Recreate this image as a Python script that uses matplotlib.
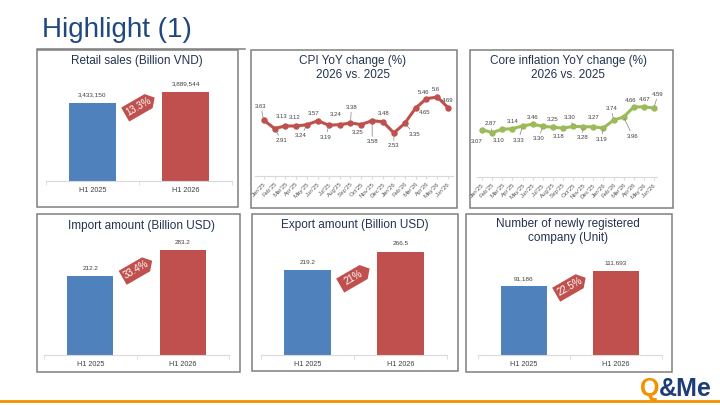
import matplotlib.pyplot as plt
import matplotlib.transforms as mtransforms
from matplotlib.patches import Rectangle, Polygon
from matplotlib.lines import Line2D

plt.rcParams['font.family'] = ['Liberation Sans', 'DejaVu Sans']

# ---- data ----
periods = ["H1 2025", "H1 2026"]
retail_sales = [3433150, 3889544]
import_amount = [212.2, 283.2]
export_amount = [219.2, 266.5]
new_companies = [91186, 111693]
growth_tags = ["13.3%", "33.4%", "21%", "22.5%"]

months = ["Jan'25", "Feb'25", "Mar'25", "Apr'25", "May'25", "Jun'25",
          "Jul'25", "Aug'25", "Sep'25", "Oct'25", "Nov'25", "Dec'25",
          "Jan'26", "Feb'26", "Mar'26", "Apr'26", "May'26", "Jun'26"]
cpi_yoy = [3.63, 2.91, 3.13, 3.12, 3.24, 3.57, 3.19, 3.24, 3.38,
           3.25, 3.58, 3.48, 2.53, 3.35, 4.65, 5.46, 5.6, 4.69]
core_yoy = [3.07, 2.87, 3.10, 3.14, 3.33, 3.46, 3.30, 3.25, 3.18,
            3.30, 3.28, 3.27, 3.19, 3.74, 3.96, 4.66, 4.67, 4.59]

# label placement (pixels, +up) and whether a leader line is drawn
cpi_lbl_pos = [(-3, 14, 1), (7, -12, 1), (-4, 9, 0), (-2, 9, 0), (-6, -11, 1), (-4, 7, 0),
               (-3, -12, 1), (-4, 10, 0), (1, 16, 1), (-4, -8, 0), (0, -21, 1), (1, 8, 0),
               (0, -13, 1), (10, -11, 1), (9, -4, 0), (-3, 6, 0), (-1, 8, 0), (0, 7, 0)]
core_lbl_pos = [(-5, -12, 0), (-2, 9, 1), (-4, -11, 0), (0, 7, 0), (-4, -14, 1), (0, 7, 0),
                (-4, -12, 1), (0, 8, 0), (-4, -8, 0), (-3, 9, 1), (-1, -11, 1), (0, 9, 0),
                (-2, -11, 1), (-2, 12, 1), (9, -19, 1), (-3, 7, 0), (1, 7, 0), (4, 14, 1)]

BLUE = '#4F81BD'
RED = '#C0504D'
GREEN = '#9BBB59'
NAVY = '#1F497D'
TITLE_C = '#243350'
TXT = '#404040'
GRID = '#D9D9D9'

W, H = 720, 405
fig = plt.figure(figsize=(7.2, 4.05), dpi=100)


def px_rect(x0, y0, x1, y1):
    return [x0 / W, 1 - y1 / H, (x1 - x0) / W, (y1 - y0) / H]


def panel_box(x0, y0, x1, y1):
    fig.patches.append(Rectangle((x0 / W, 1 - y1 / H), (x1 - x0) / W, (y1 - y0) / H,
                                 transform=fig.transFigure, fill=False,
                                 edgecolor='#7F7F7F', lw=1.1))


def panel_title(x, y, s):
    fig.text(x / W, 1 - y / H, s, ha='center', va='center', fontsize=8.5,
             color=TITLE_C, linespacing=1.15)


def bar_panel(rect, values, fmt, tag, tag_y):
    ax = fig.add_axes(px_rect(*rect))
    ax.bar(range(len(values)), values, width=0.5, color=[BLUE, RED])
    ax.set_xlim(-0.5, 1.5)
    ax.set_ylim(0, max(values) * 1.25)
    for s in ['left', 'right', 'top']:
        ax.spines[s].set_visible(False)
    ax.spines['bottom'].set_color(GRID)
    ax.set_yticks([])
    ax.set_xticks(range(len(periods)), periods)
    ax.tick_params(axis='x', length=0, labelsize=5.2, colors=TXT, pad=4)
    ax.set_xticks([-0.5, 0.5, 1.5], minor=True)
    ax.tick_params(axis='x', which='minor', length=3, color=GRID)
    for i, v in enumerate(values):
        ax.annotate(fmt(v), (i, v), xytext=(0, 4), textcoords='offset points',
                    ha='center', va='bottom', fontsize=4.6, color=TXT)
    # price-tag badge
    trans = (mtransforms.Affine2D().rotate_deg(30).scale(1 / 72)
             + fig.dpi_scale_trans
             + mtransforms.ScaledTranslation(0.5, tag_y, ax.transAxes))
    poly = [(-11.5, -5.8), (8, -5.8), (13, 0), (8, 5.8), (-11.5, 5.8)]
    ax.add_patch(Polygon(poly, closed=True, transform=trans, facecolor=RED,
                         edgecolor='none', clip_on=False))
    ax.text(0.5, tag_y, tag, transform=ax.transAxes, rotation=30,
            rotation_mode='anchor', ha='center', va='center', fontsize=7,
            color='white')
    return ax


def line_panel(rect, values, color, fmt, lbl_pos, xlim, ylim):
    ax = fig.add_axes(px_rect(*rect))
    x = range(len(values))
    ax.plot(x, values, color=color, lw=2.2, marker='o', markersize=3.6,
            solid_capstyle='round', solid_joinstyle='round')
    ax.set_xlim(*xlim)
    ax.set_ylim(*ylim)
    for s in ['left', 'right', 'top']:
        ax.spines[s].set_visible(False)
    ax.spines['bottom'].set_color(GRID)
    ax.set_yticks([])
    ax.set_xticks(list(x), months, rotation=45, ha='right', rotation_mode='anchor')
    ax.tick_params(axis='x', length=2, color=GRID, labelsize=4.4, colors='#595959', pad=2)
    for i, v in enumerate(values):
        dx, dy, lead = lbl_pos[i]
        kw = {}
        if lead:
            kw['arrowprops'] = dict(arrowstyle='-', color='#808080', lw=0.5,
                                    shrinkA=0, shrinkB=1.5)
        ax.annotate(fmt(v), (i, v), xytext=(dx * 0.72, dy * 0.72),
                    textcoords='offset points', ha='center', va='center',
                    fontsize=4.3, color=TXT, **kw)
    return ax


# ---- header ----
fig.text(42 / W, 1 - 37 / H, "Highlight (1)", ha='left', va='baseline',
         fontsize=20, color=NAVY)
fig.add_artist(Line2D([37 / W, 245 / W], [1 - 49 / H, 1 - 49 / H],
                      color='#7F7F7F', lw=1.1))

# ---- panels ----
panel_box(37, 50, 238, 207)
panel_box(251, 50, 457, 208)
panel_box(470, 50, 673, 208)
panel_box(37, 214, 240, 372)
panel_box(252, 214, 458, 371)
panel_box(466, 214, 672, 372)

panel_title(137, 61, "Retail sales (Billion VND)")
panel_title(353, 68, "CPI YoY change (%)\n2026 vs. 2025")
panel_title(568, 68, "Core inflation YoY change (%)\n2026 vs. 2025")
panel_title(141, 226, "Import amount (Billion USD)")
panel_title(355, 225, "Export amount (Billion USD)")
panel_title(568, 231, "Number of newly registered\ncompany (Unit)")

thousands = lambda v: f"{v:,.0f}"
one_dec = lambda v: f"{v:.1f}"

bar_panel((46, 70, 232, 181), retail_sales, thousands, growth_tags[0], 0.67)
bar_panel((44, 224, 229, 355), import_amount, one_dec, growth_tags[1], 0.65)
bar_panel((261, 226, 447, 355), export_amount, one_dec, growth_tags[2], 0.60)
bar_panel((478, 250, 662, 355), new_companies, thousands, growth_tags[3], 0.65)

line_panel((255, 85, 453, 176), cpi_yoy, RED,
           lambda v: ("%.2f" % v).rstrip('0'), cpi_lbl_pos,
           (-0.8, 17.45), (-1.15, 6.63))
line_panel((477, 85, 657, 177), core_yoy, GREEN,
           lambda v: "%.2f" % v, core_lbl_pos,
           (-0.5, 17.3), (-0.24, 6.2))

# ---- footer ----
fig.add_artist(Line2D([0, 1], [1 - 401 / H, 1 - 401 / H], color='#F39200', lw=2))
fig.text(640 / W, 1 - 396 / H, "Q", ha='left', va='baseline', fontsize=18,
         fontweight='bold', color='#F39200')
fig.text(659 / W, 1 - 396 / H, "&Me", ha='left', va='baseline', fontsize=18,
         fontweight='bold', color='#1D3C78')

fig.savefig('out.png', dpi=100)
